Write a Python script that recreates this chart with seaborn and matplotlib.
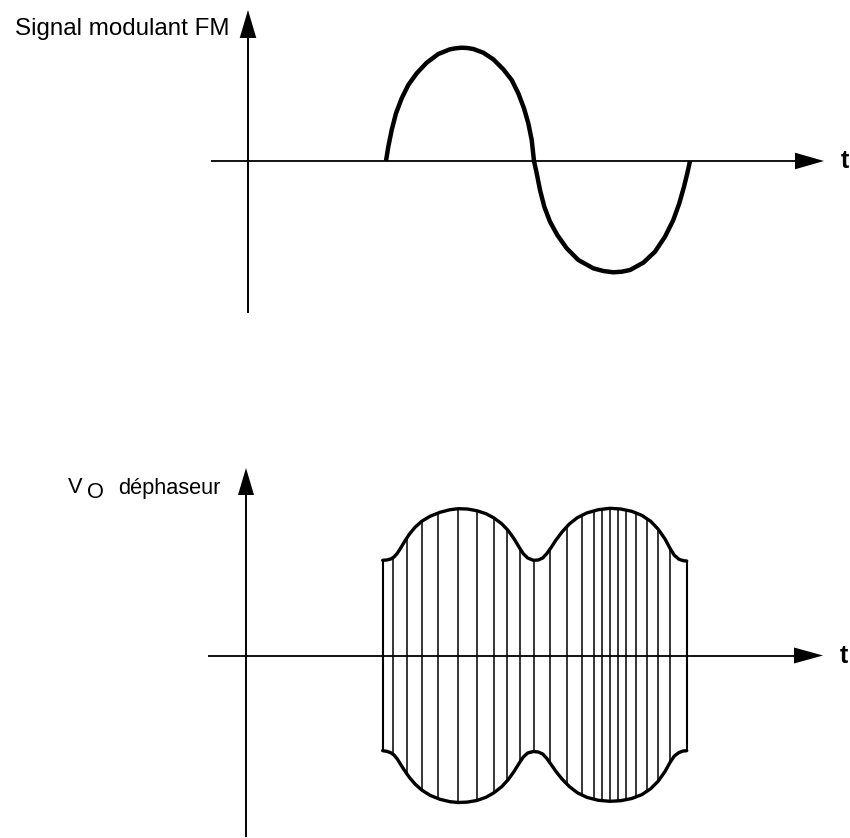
import numpy as np
import matplotlib
matplotlib.use("Agg")
import matplotlib.pyplot as plt
from matplotlib.patches import Polygon
import seaborn as sns

# ---- modulating signal (upper diagram): time t, amplitude v ----
sig_t = [1.38, 1.403, 1.437, 1.48, 1.537, 1.603, 1.687, 1.787, 1.903, 2.02,
         2.077, 2.137, 2.193, 2.253, 2.353, 2.453, 2.553, 2.637, 2.703, 2.76,
         2.803, 2.837, 2.86, 2.887, 2.92, 2.963, 3.02, 3.093, 3.187, 3.303,
         3.453, 3.553, 3.653, 3.737, 3.82, 3.953, 4.07, 4.17, 4.253, 4.313,
         4.36, 4.393, 4.42]
sig_v = [0.0, 0.143, 0.31, 0.477, 0.627, 0.76, 0.877, 0.983, 1.07, 1.117,
         1.127, 1.133, 1.13, 1.12, 1.083, 1.017, 0.917, 0.81, 0.677, 0.527,
         0.377, 0.21, 0.0, -0.123, -0.29, -0.457, -0.607, -0.74, -0.873, -0.99,
         -1.073, -1.1, -1.113, -1.107, -1.09, -1.017, -0.907, -0.757, -0.59, -0.423,
         -0.257, -0.123, 0.0]

# ---- phase-shifter output (lower diagram): envelope and carrier cycles ----
env_t = [1.367, 1.407, 1.447, 1.48, 1.513, 1.547, 1.587, 1.633, 1.69, 1.757,
         1.84, 1.94, 2.04, 2.123, 2.213, 2.307, 2.4, 2.48, 2.557, 2.623,
         2.68, 2.73, 2.773, 2.817, 2.873, 2.923, 2.967, 3.007, 3.05, 3.1,
         3.16, 3.233, 3.313, 3.407, 3.523, 3.64, 3.747, 3.857, 3.957, 4.047,
         4.123, 4.19, 4.24, 4.283, 4.33, 4.373, 4.407]
env_top = [0.952, 0.955, 0.965, 0.985, 1.022, 1.075, 1.142, 1.212, 1.282, 1.342,
           1.392, 1.432, 1.458, 1.468, 1.465, 1.448, 1.418, 1.375, 1.318, 1.248,
           1.168, 1.085, 1.018, 0.975, 0.952, 0.955, 0.975, 1.018, 1.078, 1.155,
           1.235, 1.315, 1.378, 1.425, 1.458, 1.472, 1.465, 1.442, 1.402, 1.342,
           1.262, 1.165, 1.072, 1.002, 0.962, 0.948, 0.945]
env_bot = [-0.952, -0.958, -0.972, -0.995, -1.035, -1.09, -1.152, -1.218, -1.285, -1.345,
           -1.398, -1.438, -1.462, -1.47, -1.466, -1.45, -1.418, -1.372, -1.312, -1.24,
           -1.16, -1.08, -1.015, -0.975, -0.96, -0.965, -0.985, -1.028, -1.088, -1.16,
           -1.235, -1.31, -1.372, -1.418, -1.448, -1.458, -1.452, -1.43, -1.392, -1.332,
           -1.255, -1.16, -1.07, -1.005, -0.97, -0.955, -0.952]
carrier_t = [1.473, 1.613, 1.757, 1.923, 2.123, 2.307, 2.483, 2.607, 2.74, 2.88,
             3.04, 3.207, 3.363, 3.48, 3.563, 3.64, 3.723, 3.8, 3.897, 4.007,
             4.123, 4.24]

top_label = "Signal modulant FM"
bot_label_main = "V"
bot_label_sub = "O"
bot_label_rest = "déphaseur"
time_label = "t"

sns.set_theme(style="white")
plt.rcParams["font.family"] = ["Liberation Sans", "DejaVu Sans"]

W, H = 850, 838
fig = plt.figure(figsize=(W / 100, H / 100), dpi=100)
fig.patch.set_facecolor("white")

ax1 = fig.add_axes([0, (H - 330) / H, 1, 330 / H])
ax2 = fig.add_axes([0, 0, 1, 508 / H])

ink = "black"


def draw_axes(ax, y_lo, y_tip, y_head, x_lo, x_tip, x_head, hw):
    ax.plot([0, 0], [y_lo, y_head + 0.02], color=ink, lw=1.4, solid_capstyle="butt")
    ax.fill([-hw, hw, 0], [y_head, y_head, y_tip], color=ink, lw=0)
    ax.plot([x_lo, x_head + 0.02], [0, 0], color=ink, lw=1.3, solid_capstyle="butt")
    ax.fill([x_head, x_head, x_tip], [-hw, hw, 0], color=ink, lw=0)
    ax.text(x_tip + 0.17, -0.075, time_label, fontsize=18, fontweight="bold",
            ha="left", va="baseline", color=ink)


# upper diagram
draw_axes(ax1, -1.52, 1.51, 1.23, -0.37, 5.76, 5.47, 0.083)
sns.lineplot(x=sig_t, y=sig_v, sort=False, estimator=None, color=ink,
             linewidth=3.2, solid_capstyle="butt", solid_joinstyle="round", ax=ax1)
ax1.text(-2.33, 1.26, top_label, fontsize=17.4, ha="left", va="baseline", color=ink)
ax1.set_xlim(-2.48, 6.02)
ax1.set_ylim(-1.69, 1.61)
ax1.set_axis_off()

# lower diagram
draw_axes(ax2, -1.815, 1.875, 1.605, -0.38, 5.77, 5.48, 0.08)

outline = Polygon(np.column_stack([env_t + env_t[::-1], env_top + env_bot[::-1]]),
                  closed=True, facecolor="none", edgecolor="none",
                  transform=ax2.transData)
ax2.add_patch(outline)
cycles = ax2.vlines(carrier_t, -2.0, 2.0, color=ink, linewidth=1.1)
cycles.set_clip_path(outline)
ax2.vlines([env_t[0], env_t[-1]], [env_bot[0], env_bot[-1]], [env_top[0], env_top[-1]],
           color=ink, linewidth=1.5)

sns.lineplot(x=env_t, y=env_top, sort=False, estimator=None, color=ink,
             linewidth=2.4, solid_joinstyle="round", ax=ax2)
sns.lineplot(x=env_t, y=env_bot, sort=False, estimator=None, color=ink,
             linewidth=2.4, solid_joinstyle="round", ax=ax2)

ax2.text(-1.78, 1.625, bot_label_main, fontsize=15.7, ha="left", va="baseline", color=ink)
ax2.text(-1.59, 1.575, bot_label_sub, fontsize=15.7, ha="left", va="baseline", color=ink)
ax2.text(-1.28, 1.615, bot_label_rest, fontsize=15.7, ha="left", va="baseline", color=ink)
ax2.set_xlim(-2.46, 6.04)
ax2.set_ylim(-1.825, 3.255)
ax2.set_axis_off()

fig.savefig("out.png", dpi=100, facecolor="white")
